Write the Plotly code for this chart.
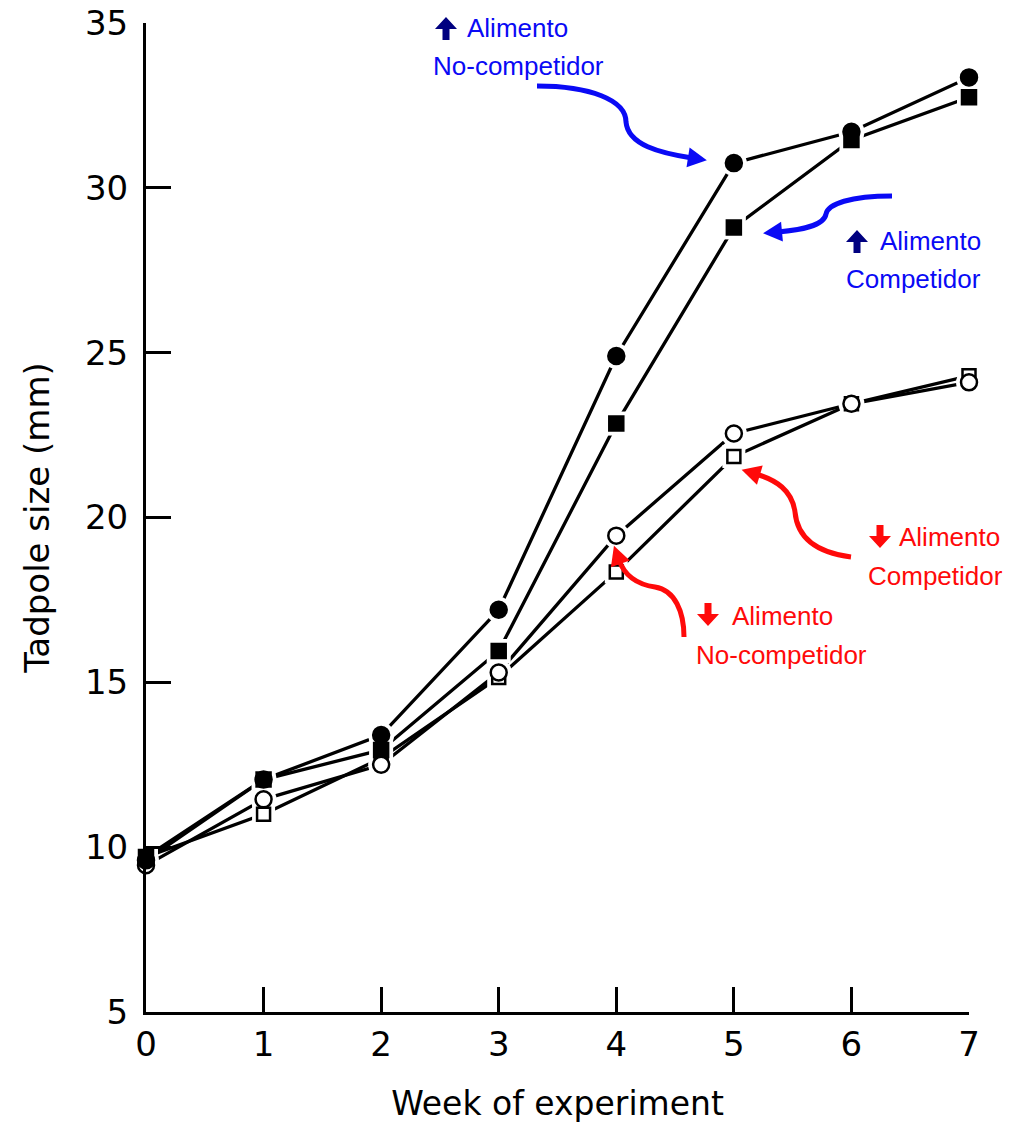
import math
import plotly.graph_objects as go

# ---------------- data ----------------
weeks = [0, 1, 2, 3, 4, 5, 6, 7]
high_food_no_comp = [9.6, 12.05, 13.4, 17.2, 24.9, 30.75, 31.7, 33.35]   # filled circle
high_food_comp = [9.7, 12.05, 12.95, 15.95, 22.85, 28.8, 31.45, 32.75]    # filled square
low_food_no_comp = [9.45, 11.45, 12.5, 15.3, 19.45, 22.55, 23.45, 24.1]   # open circle
low_food_comp = [9.7, 11.0, 12.7, 15.15, 18.35, 21.85, 23.45, 24.3]       # open square
x_ticks = [0, 1, 2, 3, 4, 5, 6, 7]
x_ticktext = ["0", "1", "2", "3", "4", "5", "6", "7"]
y_ticks = [5, 10, 15, 20, 25, 30, 35]

# ---------------- geometry ----------------
W, H = 1023, 1125
L, T = 146, 23
PW, PH = 823, 989
R, B = W - L - PW, H - T - PH


def px(x):
    return (x - L) / PW


def py(y):
    return 1 - (y - T) / PH


def P(x, y):
    return f"{px(x):.5f},{py(y):.5f}"


BLUE = "#0a0af5"
NAVY = "#000080"
RED = "#ff0a0a"
FONT = "DejaVu Sans"

fig = go.Figure()

series = [
    (low_food_comp, "square", "white", 13),
    (high_food_comp, "square", "black", 14),
    (low_food_no_comp, "circle", "white", 16),
    (high_food_no_comp, "circle", "black", 16),
]

for ys, sym, fill, size in series:
    fig.add_trace(go.Scatter(x=weeks, y=ys, mode="lines",
                             line=dict(color="black", width=3.3),
                             hoverinfo="skip", showlegend=False, cliponaxis=False))
for ys, sym, fill, size in series:
    fig.add_trace(go.Scatter(x=weeks, y=ys, mode="markers",
                             marker=dict(symbol=sym, size=size + 10, color="white",
                                         line=dict(width=0)),
                             hoverinfo="skip", showlegend=False, cliponaxis=False))
for ys, sym, fill, size in series:
    fig.add_trace(go.Scatter(x=weeks, y=ys, mode="markers",
                             marker=dict(symbol=sym, size=size, color=fill,
                                         line=dict(color="black", width=2.5)),
                             showlegend=False, cliponaxis=False))

shapes = []


def curve(points, color):
    d = "M " + P(*points[0])
    rest = points[1:]
    for i in range(0, len(rest), 3):
        d += " C " + " ".join(P(*p) for p in rest[i:i + 3])
    shapes.append(dict(type="path", xref="paper", yref="paper", path=d,
                       line=dict(color=color, width=5), fillcolor="rgba(0,0,0,0)"))
    (x1, y1), (x2, y2) = rest[-2], rest[-1]
    ang = math.atan2(y2 - y1, x2 - x1)
    ln, wd = 19, 10
    tip = (x2 + math.cos(ang) * 15, y2 + math.sin(ang) * 15)
    bx, by = tip[0] - math.cos(ang) * ln, tip[1] - math.sin(ang) * ln
    a = (bx - math.sin(ang) * wd, by + math.cos(ang) * wd)
    b = (bx + math.sin(ang) * wd, by - math.cos(ang) * wd)
    shapes.append(dict(type="path", xref="paper", yref="paper",
                       path=f"M {P(*tip)} L {P(*a)} L {P(*b)} Z",
                       line=dict(color=color, width=0), fillcolor=color))


def block_arrow(cx, ytop, ybot, up, color):
    hw, sw, hh = 11, 3.5, 12
    if up:
        pts = [(cx, ytop), (cx + hw, ytop + hh), (cx + sw, ytop + hh), (cx + sw, ybot),
               (cx - sw, ybot), (cx - sw, ytop + hh), (cx - hw, ytop + hh)]
    else:
        pts = [(cx, ybot), (cx + hw, ybot - hh), (cx + sw, ybot - hh), (cx + sw, ytop),
               (cx - sw, ytop), (cx - sw, ybot - hh), (cx - hw, ybot - hh)]
    d = "M " + " L ".join(P(*p) for p in pts) + " Z"
    shapes.append(dict(type="path", xref="paper", yref="paper", path=d,
                       line=dict(color=color, width=0), fillcolor=color))


curve([(537, 86), (590, 86), (626, 100), (626, 122),
       (628, 145), (660, 153), (692, 158)], BLUE)
curve([(892, 196), (850, 196), (828, 204), (826, 214),
       (824, 226), (800, 230), (778, 232)], BLUE)
curve([(851, 557), (812, 552), (797, 535), (795, 512),
       (792, 490), (776, 480), (756, 474)], RED)
curve([(684, 637), (684, 612), (675, 590), (655, 587),
       (634, 584), (624, 574), (619, 560)], RED)

block_arrow(446, 17, 40, True, NAVY)
block_arrow(857, 230, 253, True, NAVY)
block_arrow(880, 525, 548, False, RED)
block_arrow(708, 603, 626, False, RED)

annotations = []


def label(x, y, text, color):
    annotations.append(dict(xref="paper", yref="paper", x=px(x), y=py(y), text=text,
                            showarrow=False, xanchor="left", yanchor="middle",
                            font=dict(family="Liberation Sans", size=26, color=color)))


label(465, 28, "Alimento", BLUE)
label(431, 66, "No-competidor", BLUE)
label(878, 241, "Alimento", BLUE)
label(844, 279, "Competidor", BLUE)
label(897, 537, "Alimento", RED)
label(866, 576, "Competidor", RED)
label(730, 616, "Alimento", RED)
label(694, 655, "No-competidor", RED)

fig.update_layout(
    width=W, height=H,
    margin=dict(l=L, r=R, t=T, b=B, pad=0, autoexpand=False),
    paper_bgcolor="white", plot_bgcolor="white",
    shapes=shapes, annotations=annotations,
    showlegend=False,
    font=dict(family=FONT, color="black"),
    xaxis=dict(range=[0, 7], tickvals=x_ticks, ticktext=x_ticktext,
               ticks="inside", ticklen=25, tickwidth=2.5, tickcolor="black",
               showline=True, linewidth=3, linecolor="black", automargin=False,
               showgrid=False, zeroline=False, ticklabelstandoff=0,
               ticklabeloverflow="allow",
               tickfont=dict(family=FONT, size=34),
               title=dict(text="Week of experiment", standoff=30,
                          font=dict(family=FONT, size=33))),
    yaxis=dict(range=[5, 35], tickvals=y_ticks,
               ticks="inside", ticklen=25, tickwidth=2.5, tickcolor="black",
               showline=True, linewidth=3, linecolor="black", automargin=False,
               showgrid=False, zeroline=False, ticklabelstandoff=8,
               ticklabeloverflow="allow",
               tickfont=dict(family=FONT, size=34),
               title=dict(text="Tadpole size (mm)", standoff=26,
                          font=dict(family=FONT, size=34))),
)

fig.write_html("out.html", config={"displayModeBar": False},
               post_script="document.body.style.margin='0';document.body.style.overflow='hidden';")
